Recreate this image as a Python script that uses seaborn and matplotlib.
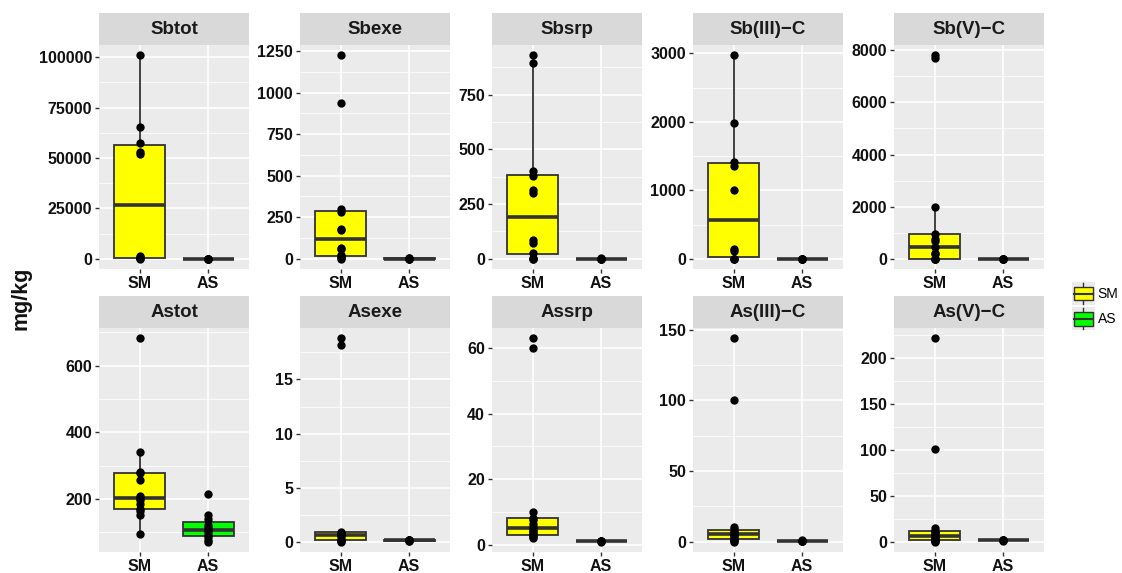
import numpy as np
import pandas as pd
import matplotlib
matplotlib.use("Agg")
import matplotlib.pyplot as plt
import seaborn as sns
from matplotlib.patches import Rectangle, Patch
from matplotlib.lines import Line2D
from matplotlib.legend_handler import HandlerBase
from matplotlib.ticker import MultipleLocator

plt.rcParams["font.family"] = ["Liberation Sans", "DejaVu Sans"]

# panel names (top row Sb, bottom row As)
panels = ["Sbtot", "Sbexe", "Sbsrp", "Sb(III)\u2212C", "Sb(V)\u2212C",
          "Astot", "Asexe", "Assrp", "As(III)\u2212C", "As(V)\u2212C"]
sites = ["SM", "AS"]

# values (mg/kg)
sbtot_sm = [50, 200, 500, 900, 1500, 52000, 53000, 57500, 65500, 101000]
sbtot_as = [5, 10, 20, 30, 40]
sbexe_sm = [0, 5, 15, 20, 60, 65, 175, 180, 280, 300, 940, 1225]
sbexe_as = [0.5, 1, 1.5, 2, 3]
sbsrp_sm = [0, 1, 4, 26, 72, 85, 300, 315, 380, 400, 895, 930]
sbsrp_as = [0.3, 0.5, 0.8, 1.0, 1.5]
sb3_sm = [0, 0, 0, 112, 146, 1000, 1356, 1415, 1985, 2975]
sb3_as = [0.2, 0.5, 1, 1.5, 2]
sb5_sm = [0, 0, 0, 10, 200, 240, 470, 680, 765, 950, 1977, 7720, 7810]
sb5_as = [0.5, 1, 2, 3, 4]
astot_sm = [94, 152, 165, 170, 185, 198, 203, 210, 257, 277, 280, 340, 682]
astot_as = [72, 78, 85, 92, 100, 107, 115, 122, 140, 152, 215]
asexe_sm = [0.05, 0.1, 0.2, 0.3, 0.6, 0.7, 0.8, 0.9, 1.0, 18.2, 18.8]
asexe_as = [0.12, 0.15, 0.18, 0.2, 0.22, 0.25]
assrp_sm = [2.0, 2.5, 2.9, 3.0, 3.5, 4.2, 4.6, 5.4, 6.2, 7.6, 8.3, 10.0, 60, 63]
assrp_as = [0.9, 1.0, 1.1, 1.2, 1.3]
as3_sm = [0, 0.5, 1.2, 1.5, 2.5, 4.0, 4.5, 6.0, 6.8, 7.2, 9.0, 10.5, 100, 144]
as3_as = [0.4, 0.6, 0.8, 0.9, 1.0]
as5_sm = [0, 0.5, 1.2, 2, 3, 4.5, 5.5, 6.5, 8, 10.5, 11, 11.5, 15.6, 101, 222]
as5_as = [1.2, 1.5, 1.8, 2.0, 2.3]

tick_steps = [25000, 250, 250, 1000, 2000, 200, 5, 20, 50, 50]

sm_data = [sbtot_sm, sbexe_sm, sbsrp_sm, sb3_sm, sb5_sm,
           astot_sm, asexe_sm, assrp_sm, as3_sm, as5_sm]
as_data = [sbtot_as, sbexe_as, sbsrp_as, sb3_as, sb5_as,
           astot_as, asexe_as, assrp_as, as3_as, as5_as]

rows = []
for name, sm, as_ in zip(panels, sm_data, as_data):
    for v in sm:
        rows.append((name, "SM", v))
    for v in as_:
        rows.append((name, "AS", v))
df = pd.DataFrame(rows, columns=["var", "site", "value"])

palette = {"SM": "#FFFF00", "AS": "#00FF00"}
line_col = "#333333"

W, H = 1122, 573
fig = plt.figure(figsize=(W / 100, H / 100), dpi=100)

col_left = [99, 300, 492, 693, 894]
pan_w = 150
row_top = [45, 328]
pan_h = 224
strip_h = 32


def fx(px):
    return px / W


def fy(py):
    return 1 - py / H


for i, name in enumerate(panels):
    r, c = divmod(i, 5)
    left = col_left[c]
    top = row_top[r]
    ax = fig.add_axes([fx(left), fy(top + pan_h), pan_w / W, pan_h / H])
    sax = fig.add_axes([fx(left), fy(top), pan_w / W, strip_h / H])
    sax.set_facecolor("#D9D9D9")
    sax.set_xticks([])
    sax.set_yticks([])
    for s in sax.spines.values():
        s.set_visible(False)
    sax.text(0.5, 0.48, name, ha="center", va="center", fontsize=13.5,
             fontweight="bold", color="#1A1A1A", transform=sax.transAxes)

    sub = df[df["var"] == name]
    ax.set_facecolor("#EBEBEB")
    ax.set_axisbelow(True)
    sns.boxplot(data=sub, x="site", y="value", hue="site", order=sites,
                hue_order=sites, palette=palette, width=0.75, showfliers=False,
                linecolor=line_col, linewidth=1.3, whis=1.5, legend=False,
                medianprops={"linewidth": 2.6, "color": line_col},
                capprops={"visible": False}, saturation=1, ax=ax)
    sns.stripplot(data=sub, x="site", y="value", order=sites, color="black",
                  jitter=False, size=6, linewidth=0, ax=ax, zorder=5)

    vmin, vmax = sub["value"].min(), sub["value"].max()
    pad = 0.05 * (vmax - vmin)
    ax.set_ylim(vmin - pad, vmax + pad)
    ax.set_xlim(-0.6, 1.6)
    step = tick_steps[i]
    ax.yaxis.set_major_locator(MultipleLocator(step))
    ax.yaxis.set_minor_locator(MultipleLocator(step / 2))
    ax.grid(True, which="major", color="white", linewidth=1.2)
    ax.grid(True, which="minor", axis="y", color="white", linewidth=0.6)
    ax.tick_params(which="major", length=3, width=1, color=line_col,
                   labelsize=11.5, pad=2)
    ax.tick_params(which="minor", length=0)
    for lab in ax.get_xticklabels() + ax.get_yticklabels():
        lab.set_fontweight("bold")
        lab.set_color("#111111")
    ax.set_xlabel("")
    ax.set_ylabel("")
    for s in ax.spines.values():
        s.set_visible(False)

fig.text(fx(21), fy(298), "mg/kg", rotation=90, ha="center", va="center",
         fontsize=15.5, fontweight="bold", color="#111111")


class BoxKey(HandlerBase):
    def create_artists(self, legend, orig_handle, xdescent, ydescent,
                       width, height, fontsize, trans):
        x0, y0 = -xdescent, -ydescent
        bg = Rectangle((x0, y0), width, height, facecolor="#EBEBEB",
                       edgecolor="none", transform=trans)
        cx = x0 + width / 2
        wl = Line2D([cx, cx], [y0 + height * 0.05, y0 + height * 0.95],
                    color=line_col, lw=1, transform=trans)
        box = Rectangle((x0 + width * 0.1, y0 + height * 0.2), width * 0.8,
                        height * 0.6, facecolor=orig_handle.get_facecolor(),
                        edgecolor=line_col, lw=1, transform=trans)
        med = Line2D([x0 + width * 0.1, x0 + width * 0.9],
                     [y0 + height / 2] * 2, color=line_col, lw=1.5,
                     transform=trans)
        return [bg, wl, box, med]


handles = [Patch(facecolor=palette[s]) for s in sites]
fig.legend(handles, sites, handler_map={Patch: BoxKey()}, loc="upper left",
           bbox_to_anchor=(fx(1072), fy(282)), frameon=False, fontsize=10,
           handlelength=1.65, handleheight=2.18, labelspacing=0.15,
           handletextpad=0.2, borderpad=0, borderaxespad=0)

fig.savefig("out.png", dpi=100)
